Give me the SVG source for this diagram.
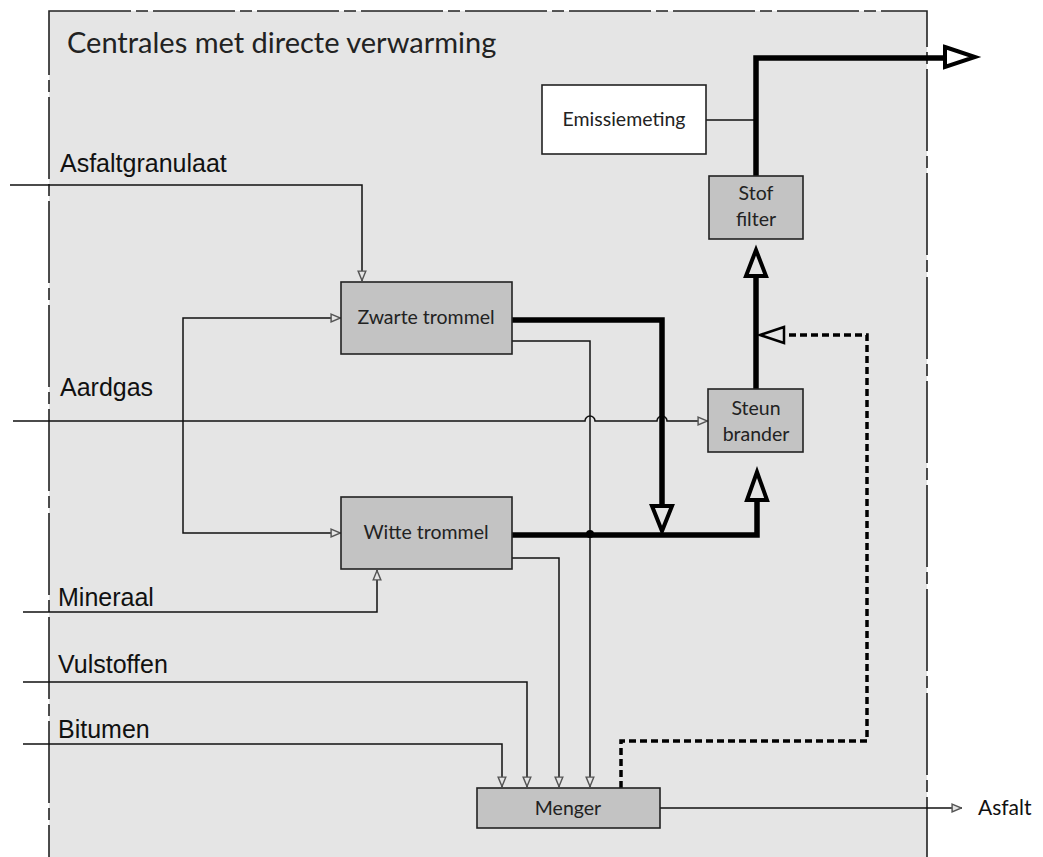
<svg xmlns="http://www.w3.org/2000/svg" width="1043" height="857" viewBox="0 0 1043 857">
<defs>
<style>
.frame{fill:#e5e5e5;stroke:#222;stroke-width:1.6;stroke-dasharray:82 5 12 5}
.box{fill:#c3c3c3;stroke:#222;stroke-width:1.6}
.wbox{fill:#fff;stroke:#222;stroke-width:1.6}
.ln{fill:none;stroke:#111;stroke-width:1.5}
.thick{fill:none;stroke:#000;stroke-width:5.5}
.dash{fill:none;stroke:#000;stroke-width:3.5;stroke-dasharray:7 4}
.big{fill:#e5e5e5;stroke:#000;stroke-width:4;stroke-linejoin:miter}
.lbl{font-family:"Liberation Sans",Arial,sans-serif;font-size:25px;fill:#111}
.bt{font-family:Lato,"Open Sans",sans-serif;font-size:19.5px;fill:#222;text-anchor:middle}
.title{font-family:Lato,"Open Sans",sans-serif;font-size:29px;fill:#222}
</style>
<marker id="oa" viewBox="0 0 10 10" refX="10" refY="5" markerWidth="11" markerHeight="11" markerUnits="userSpaceOnUse" orient="auto">
<path d="M1,1.5 L9.5,5 L1,8.5 Z" fill="#e5e5e5" stroke="#555" stroke-width="1.3"/>
</marker>
</defs>
<g id="frame">
<rect class="frame" x="49" y="11" width="878" height="870"/>
<text class="title" x="67" y="53">Centrales met directe verwarming</text>
</g>
<g id="connectors">
<path class="ln" d="M10,185 H362 V281" marker-end="url(#oa)"/>
<path class="ln" d="M183,420 V318 H341" marker-end="url(#oa)"/>
<path class="ln" d="M183,420 V533 H341" marker-end="url(#oa)"/>
<path class="ln" d="M13,421 H585 A5,5 0 0 1 595,421 H657 A5,5 0 0 1 667,421 H708" marker-end="url(#oa)"/>
<path class="ln" d="M23,612 H377 V570" marker-end="url(#oa)"/>
<path class="ln" d="M23,682 H527 V787" marker-end="url(#oa)"/>
<path class="ln" d="M23,744 H502 V787" marker-end="url(#oa)"/>
<path class="ln" d="M512,341 H590 V787" marker-end="url(#oa)"/>
<path class="ln" d="M512,558 H559 V787" marker-end="url(#oa)"/>
<path class="ln" d="M660,808 H962" marker-end="url(#oa)"/>
<path class="ln" d="M706,120 H756"/>
<path class="thick" d="M510,320 H662 V506"/>
<path class="big" d="M652,506 H672 L662,531 Z"/>
<path class="thick" d="M512,535 H757 V500"/>
<circle cx="590" cy="534" r="4" fill="#000"/>
<path class="big" d="M747,500 H767 L757,472 Z"/>
<path class="thick" d="M756,389 V277"/>
<path class="big" d="M746,276 H766 L756,250 Z"/>
<path class="thick" d="M756,176 V58 H945"/>
<path class="big" d="M945,47 L975,57 L945,67 Z" style="fill:#fff"/>
<path class="dash" d="M621,788 V741 H867 V335 H785"/>
<path d="M784,327 L760,335 L784,343 Z" fill="#e5e5e5" stroke="#000" stroke-width="2.5"/>
</g>
<g id="lbl-asfaltgranulaat"><text class="lbl" x="60" y="172">Asfaltgranulaat</text></g>
<g id="lbl-aardgas"><text class="lbl" x="60" y="396">Aardgas</text></g>
<g id="lbl-mineraal"><text class="lbl" x="58" y="606">Mineraal</text></g>
<g id="lbl-vulstoffen"><text class="lbl" x="58" y="673">Vulstoffen</text></g>
<g id="lbl-bitumen"><text class="lbl" x="58" y="738">Bitumen</text></g>
<g id="lbl-asfalt"><text x="978" y="815" style="font-family:Lato,'Open Sans',sans-serif;font-size:21px;fill:#111">Asfalt</text></g>
<g id="emissiemeting">
<rect class="wbox" x="542" y="85" width="164" height="69"/>
<text class="bt" x="624" y="126">Emissiemeting</text>
</g>
<g id="stoffilter">
<rect class="box" x="709" y="176" width="94" height="63"/>
<text class="bt" x="756" y="200">Stof</text>
<text class="bt" x="756" y="226">filter</text>
</g>
<g id="zwartetrommel">
<rect class="box" x="341" y="282" width="171" height="72"/>
<text class="bt" x="426" y="324">Zwarte trommel</text>
</g>
<g id="steunbrander">
<rect class="box" x="708" y="389" width="95" height="63"/>
<text class="bt" x="756" y="415">Steun</text>
<text class="bt" x="756" y="441">brander</text>
</g>
<g id="wittetrommel">
<rect class="box" x="341" y="497" width="171" height="72"/>
<text class="bt" x="426" y="539">Witte trommel</text>
</g>
<g id="menger">
<rect class="box" x="477" y="788" width="183" height="40"/>
<text class="bt" x="568" y="815">Menger</text>
</g>
</svg>
